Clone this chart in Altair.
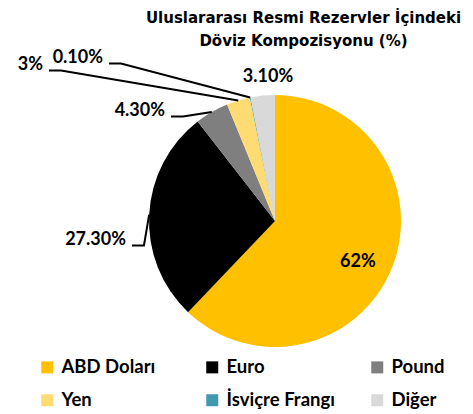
import altair as alt
import pandas as pd

# ---------------- data ----------------
categories = ["ABD Doları", "Euro", "Pound", "Yen", "İsviçre Frangı", "Diğer"]
shares = [62.0, 27.3, 4.3, 3.0, 0.1, 3.1]
label_texts = ["62%", "27.30%", "4.30%", "3%", "0.10%", "3.10%"]
colors = ["#FFC000", "#000000", "#7F7F7F", "#FFDC73", "#4198AF", "#D9D9D9"]
title_lines = ["Uluslararası Resmi Rezervler İçindeki", "Döviz Kompozisyonu (%)"]

# ---------------- layout / style ----------------
FONT = "Lato"
TITLE_FONT = "DejaVu Sans"
R = 126                      # pie radius (px)
W, H = 457, 343              # plot area
CX, CY = 267, 158            # pie centre inside the plot area (px)

# label placement: ("polar", radius factor, angle nudge in degrees)
# or ("leader", x, y) in pie-radius units relative to centre, y upwards
placement = {
    "ABD Doları": ("polar", 0.735, 4.7),
    "Euro": ("leader", -1.183, -0.151),
    "Pound": ("leader", -0.873, 0.873),
    "Yen": ("leader", -1.841, 1.238),
    "İsviçre Frangı": ("leader", -1.365, 1.294),
    "Diğer": ("polar", 1.144, 2.8),
}

df = pd.DataFrame({
    "cat": categories,
    "val": shares,
    "idx": list(range(len(categories))),
    "txt": label_texts,
    "mode": [placement[c][0] for c in categories],
    "a": [placement[c][1] for c in categories],
    "b": [placement[c][2] for c in categories],
    "cx": [0.0] * len(categories),
})

xs = alt.Scale(domain=[-CX / R, (W - CX) / R], nice=False, zero=False)
ys = alt.Scale(domain=[-(H - CY) / R, CY / R], nice=False, zero=False)

base = alt.Chart(df)

arc = base.mark_arc(outerRadius=R).encode(
    theta=alt.Theta("val:Q", stack=True),
    order=alt.Order("idx:Q"),
    x=alt.X("cx:Q", scale=xs, axis=None),
    y=alt.Y("cx:Q", scale=ys, axis=None),
    color=alt.Color(
        "cat:N",
        scale=alt.Scale(domain=categories, range=colors),
        legend=alt.Legend(
            title=None, orient="none", legendX=30, legendY=295,
            columns=3, gridAlign="all", direction="horizontal",
            symbolType="square", symbolSize=144, symbolStrokeWidth=0,
            labelFont=FONT, labelFontSize=18.5, labelFontWeight="bold",
            labelColor="black", labelOffset=5, columnPadding=33,
            rowPadding=14, padding=0, labelLimit=300,
        ),
    ),
)

pos = base.transform_window(
    cum="sum(val)", sort=[alt.SortField("idx")]
).transform_joinaggregate(
    total="sum(val)"
).transform_calculate(
    mid="2*PI*(datum.cum - datum.val/2)/datum.total",
)

polar_lbl = pos.transform_filter("datum.mode == 'polar'").transform_calculate(
    lx="datum.a*sin(datum.mid + datum.b*PI/180)",
    ly="datum.a*cos(datum.mid + datum.b*PI/180)",
).mark_text(
    font=FONT, fontSize=18, fontWeight="bold", color="black",
    align="center", baseline="middle",
).encode(
    x=alt.X("lx:Q", scale=xs, axis=None),
    y=alt.Y("ly:Q", scale=ys, axis=None),
    text="txt:N",
)

leader_lbl = pos.transform_filter("datum.mode == 'leader'").mark_text(
    font=FONT, fontSize=18, fontWeight="bold", color="black",
    align="right", baseline="middle",
).encode(
    x=alt.X("a:Q", scale=xs, axis=None),
    y=alt.Y("b:Q", scale=ys, axis=None),
    text="txt:N",
)

leader_lines = pos.transform_filter("datum.mode == 'leader'").transform_calculate(
    x0=f"datum.a + 6/{R}",
    x1=f"datum.a + 18/{R}",
    x2="sin(datum.mid)",
    yl=f"datum.b - 5.5/{R}",
    y2="cos(datum.mid)",
).transform_fold(
    ["x0", "x1", "x2"], as_=["pt", "px"]
).transform_calculate(
    py="datum.pt == 'x2' ? datum.y2 : datum.yl"
).mark_line(color="black", strokeWidth=2, strokeJoin="miter").encode(
    x=alt.X("px:Q", scale=xs, axis=None),
    y=alt.Y("py:Q", scale=ys, axis=None),
    detail="cat:N",
    order=alt.Order("pt:O"),
)

chart = alt.layer(arc, leader_lines, polar_lbl, leader_lbl).properties(
    width=W, height=H,
    background="white",
    title=alt.TitleParams(
        text=title_lines, font=TITLE_FONT, fontSize=15, fontWeight="bold",
        color="black", anchor="middle", dx=67, offset=-0.5, lineHeight=23.5,
    ),
    padding={"left": 0, "top": 55, "right": 0, "bottom": 8},
    autosize=alt.AutoSizeParams(type="none"),
).configure_view(stroke=None)

chart.save("out.html", embed_options={"renderer": "svg", "actions": False})
